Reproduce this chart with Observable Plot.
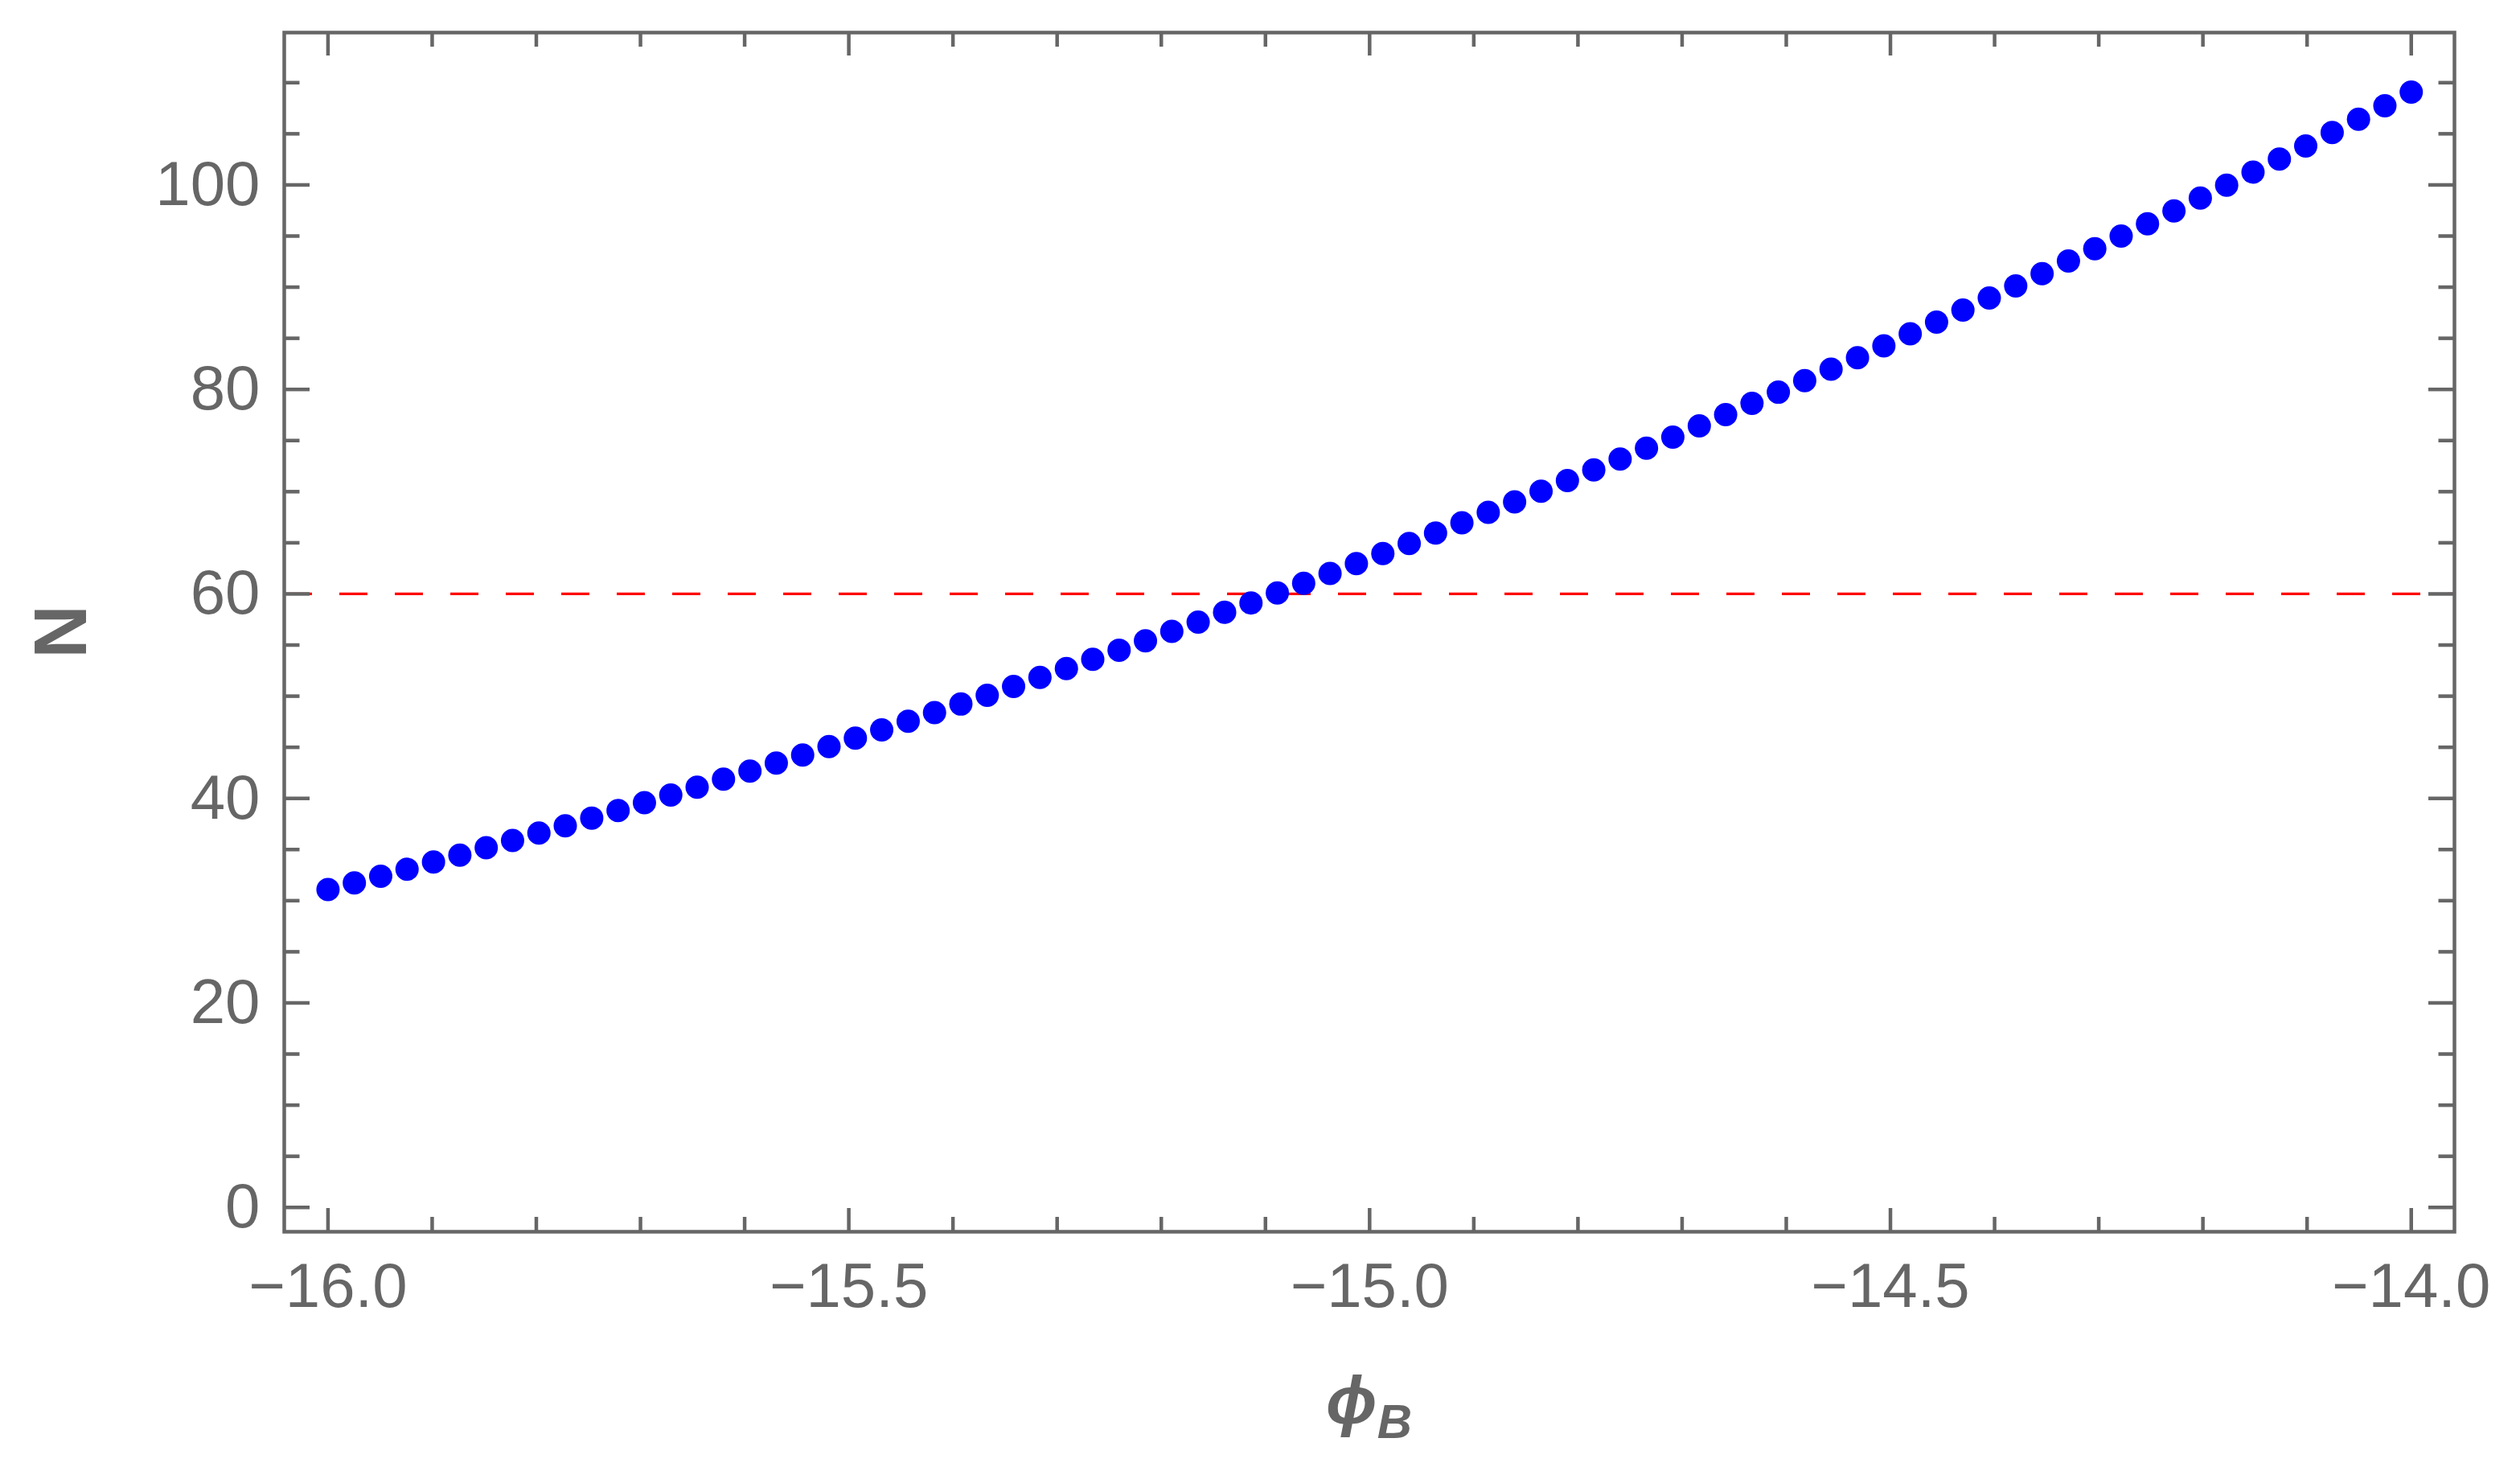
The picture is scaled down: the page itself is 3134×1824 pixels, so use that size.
<!DOCTYPE html>
<html>
<head>
<meta charset="utf-8">
<script src="https://cdn.jsdelivr.net/npm/d3@7"></script>
<script src="https://cdn.jsdelivr.net/npm/@observablehq/plot@0.6"></script>
<style>
  html, body { margin: 0; padding: 0; background: #fff; }
</style>
</head>
<body>
<div id="chart"></div>
<script>
// phi_B values (x) and e-folds N (y)
const phiB = [
  -16.0000, -15.9747, -15.9494, -15.9241, -15.8987, -15.8734, -15.8481, -15.8228, -15.7975, -15.7722,
  -15.7468, -15.7215, -15.6962, -15.6709, -15.6456, -15.6203, -15.5949, -15.5696, -15.5443, -15.5190,
  -15.4937, -15.4684, -15.4430, -15.4177, -15.3924, -15.3671, -15.3418, -15.3165, -15.2911, -15.2658,
  -15.2405, -15.2152, -15.1899, -15.1646, -15.1392, -15.1139, -15.0886, -15.0633, -15.0380, -15.0127,
  -14.9873, -14.9620, -14.9367, -14.9114, -14.8861, -14.8608, -14.8354, -14.8101, -14.7848, -14.7595,
  -14.7342, -14.7089, -14.6835, -14.6582, -14.6329, -14.6076, -14.5823, -14.5570, -14.5316, -14.5063,
  -14.4810, -14.4557, -14.4304, -14.4051, -14.3797, -14.3544, -14.3291, -14.3038, -14.2785, -14.2532,
  -14.2278, -14.2025, -14.1772, -14.1519, -14.1266, -14.1013, -14.0759, -14.0506, -14.0253, -14.0000
];
const Nvals = [
  31.08, 31.74, 32.39, 33.07, 33.78, 34.46, 35.17, 35.88, 36.62, 37.32,
  38.08, 38.82, 39.58, 40.34, 41.10, 41.89, 42.67, 43.46, 44.25, 45.08,
  45.90, 46.71, 47.55, 48.39, 49.23, 50.09, 50.96, 51.83, 52.71, 53.61,
  54.50, 55.42, 56.33, 57.25, 58.20, 59.12, 60.09, 61.03, 62.00, 62.97,
  63.94, 64.94, 65.96, 66.96, 67.98, 69.00, 70.05, 71.08, 72.12, 73.20,
  74.25, 75.33, 76.43, 77.53, 78.63, 79.73, 80.86, 81.98, 83.11, 84.26,
  85.45, 86.58, 87.76, 88.94, 90.12, 91.32, 92.56, 93.76, 94.99, 96.20,
  97.46, 98.72, 99.98, 101.26, 102.54, 103.81, 105.12, 106.43, 107.74, 109.08
];
const referenceN = [60];

const xMajor = [-16.0, -15.5, -15.0, -14.5, -14.0];
const xMinor = [-15.9, -15.8, -15.7, -15.6, -15.4, -15.3, -15.2, -15.1, -14.9, -14.8, -14.7, -14.6, -14.4, -14.3, -14.2, -14.1];
const yMajor = [0, 20, 40, 60, 80, 100];
const yMinor = [5, 10, 15, 25, 30, 35, 45, 50, 55, 65, 70, 75, 85, 90, 95, 105, 110];

const xLabel = "\u03D5";
const xLabelSub = "B";
const yLabel = "N";

const points = phiB.map((x, i) => ({x, y: Nvals[i]}));

const W = 3134, H = 1824;
const mL = 353, mR = 82, mT = 40, mB = 293;
const fw = W - mL - mR, fh = H - mT - mB;
const ink = "#666666";
const xMajLen = 29, xMinLen = 18, yMajLen = 32, yMinLen = 19.5;
const tw = 4.5;

const fmtX = d => (d < 0 ? "\u2212" : "") + Math.abs(d).toFixed(1);

const plot = Plot.plot({
  width: W,
  height: H,
  marginLeft: mL, marginRight: mR, marginTop: mT, marginBottom: mB,
  style: {fontFamily: "'Liberation Sans', Arial, sans-serif", fontSize: "78px", color: ink, background: "#fff"},
  x: {domain: [-16.042, -13.9585]},
  y: {domain: [-2.38, 114.9]},
  marks: [
    Plot.ruleY(referenceN, {stroke: "#ff0000", strokeWidth: 3.3, strokeDasharray: "35,34"}),
    Plot.dot(points, {x: "x", y: "y", r: 14.5, fill: "#0000ff", stroke: "none"}),
    // bottom ticks
    Plot.tickX(xMajor, {stroke: ink, strokeWidth: tw, insetTop: fh - xMajLen}),
    Plot.tickX(xMinor, {stroke: ink, strokeWidth: tw, insetTop: fh - xMinLen}),
    // top ticks
    Plot.tickX(xMajor, {stroke: ink, strokeWidth: tw, insetBottom: fh - xMajLen}),
    Plot.tickX(xMinor, {stroke: ink, strokeWidth: tw, insetBottom: fh - xMinLen}),
    // left ticks
    Plot.tickY(yMajor, {stroke: ink, strokeWidth: tw, insetRight: fw - yMajLen}),
    Plot.tickY(yMinor, {stroke: ink, strokeWidth: tw, insetRight: fw - yMinLen}),
    // right ticks
    Plot.tickY(yMajor, {stroke: ink, strokeWidth: tw, insetLeft: fw - yMajLen}),
    Plot.tickY(yMinor, {stroke: ink, strokeWidth: tw, insetLeft: fw - yMinLen}),
    Plot.axisX(xMajor, {anchor: "bottom", tickSize: 0, tickPadding: 38, tickFormat: fmtX, label: null, fill: ink}),
    Plot.axisY(yMajor, {anchor: "left", tickSize: 0, tickPadding: 30, label: null, fill: ink}),
    Plot.frame({stroke: ink, strokeWidth: 4.5})
  ]
});

document.getElementById("chart").appendChild(plot);

const svg = d3.select(plot);
// x axis title: phi_B
const xt = svg.append("text")
  .attr("x", mL + fw / 2)
  .attr("y", 1770)
  .attr("text-anchor", "middle")
  .attr("fill", ink)
  .attr("font-family", "'Liberation Sans', 'DejaVu Sans', Arial, sans-serif")
  .attr("font-style", "italic")
  .attr("font-weight", "bold")
  .attr("font-size", 84);
xt.append("tspan").text(xLabel);
xt.append("tspan").attr("font-size", 60).attr("dy", 18).text(xLabelSub);

// y axis title: N
svg.append("text")
  .attr("transform", `translate(74,${mT + fh / 2}) rotate(-90)`)
  .attr("text-anchor", "middle")
  .attr("dy", "0.36em")
  .attr("fill", ink)
  .attr("font-family", "'Liberation Sans', Arial, sans-serif")
  .attr("font-weight", "bold")
  .attr("font-size", 92)
  .text(yLabel);
</script>
</body>
</html>
